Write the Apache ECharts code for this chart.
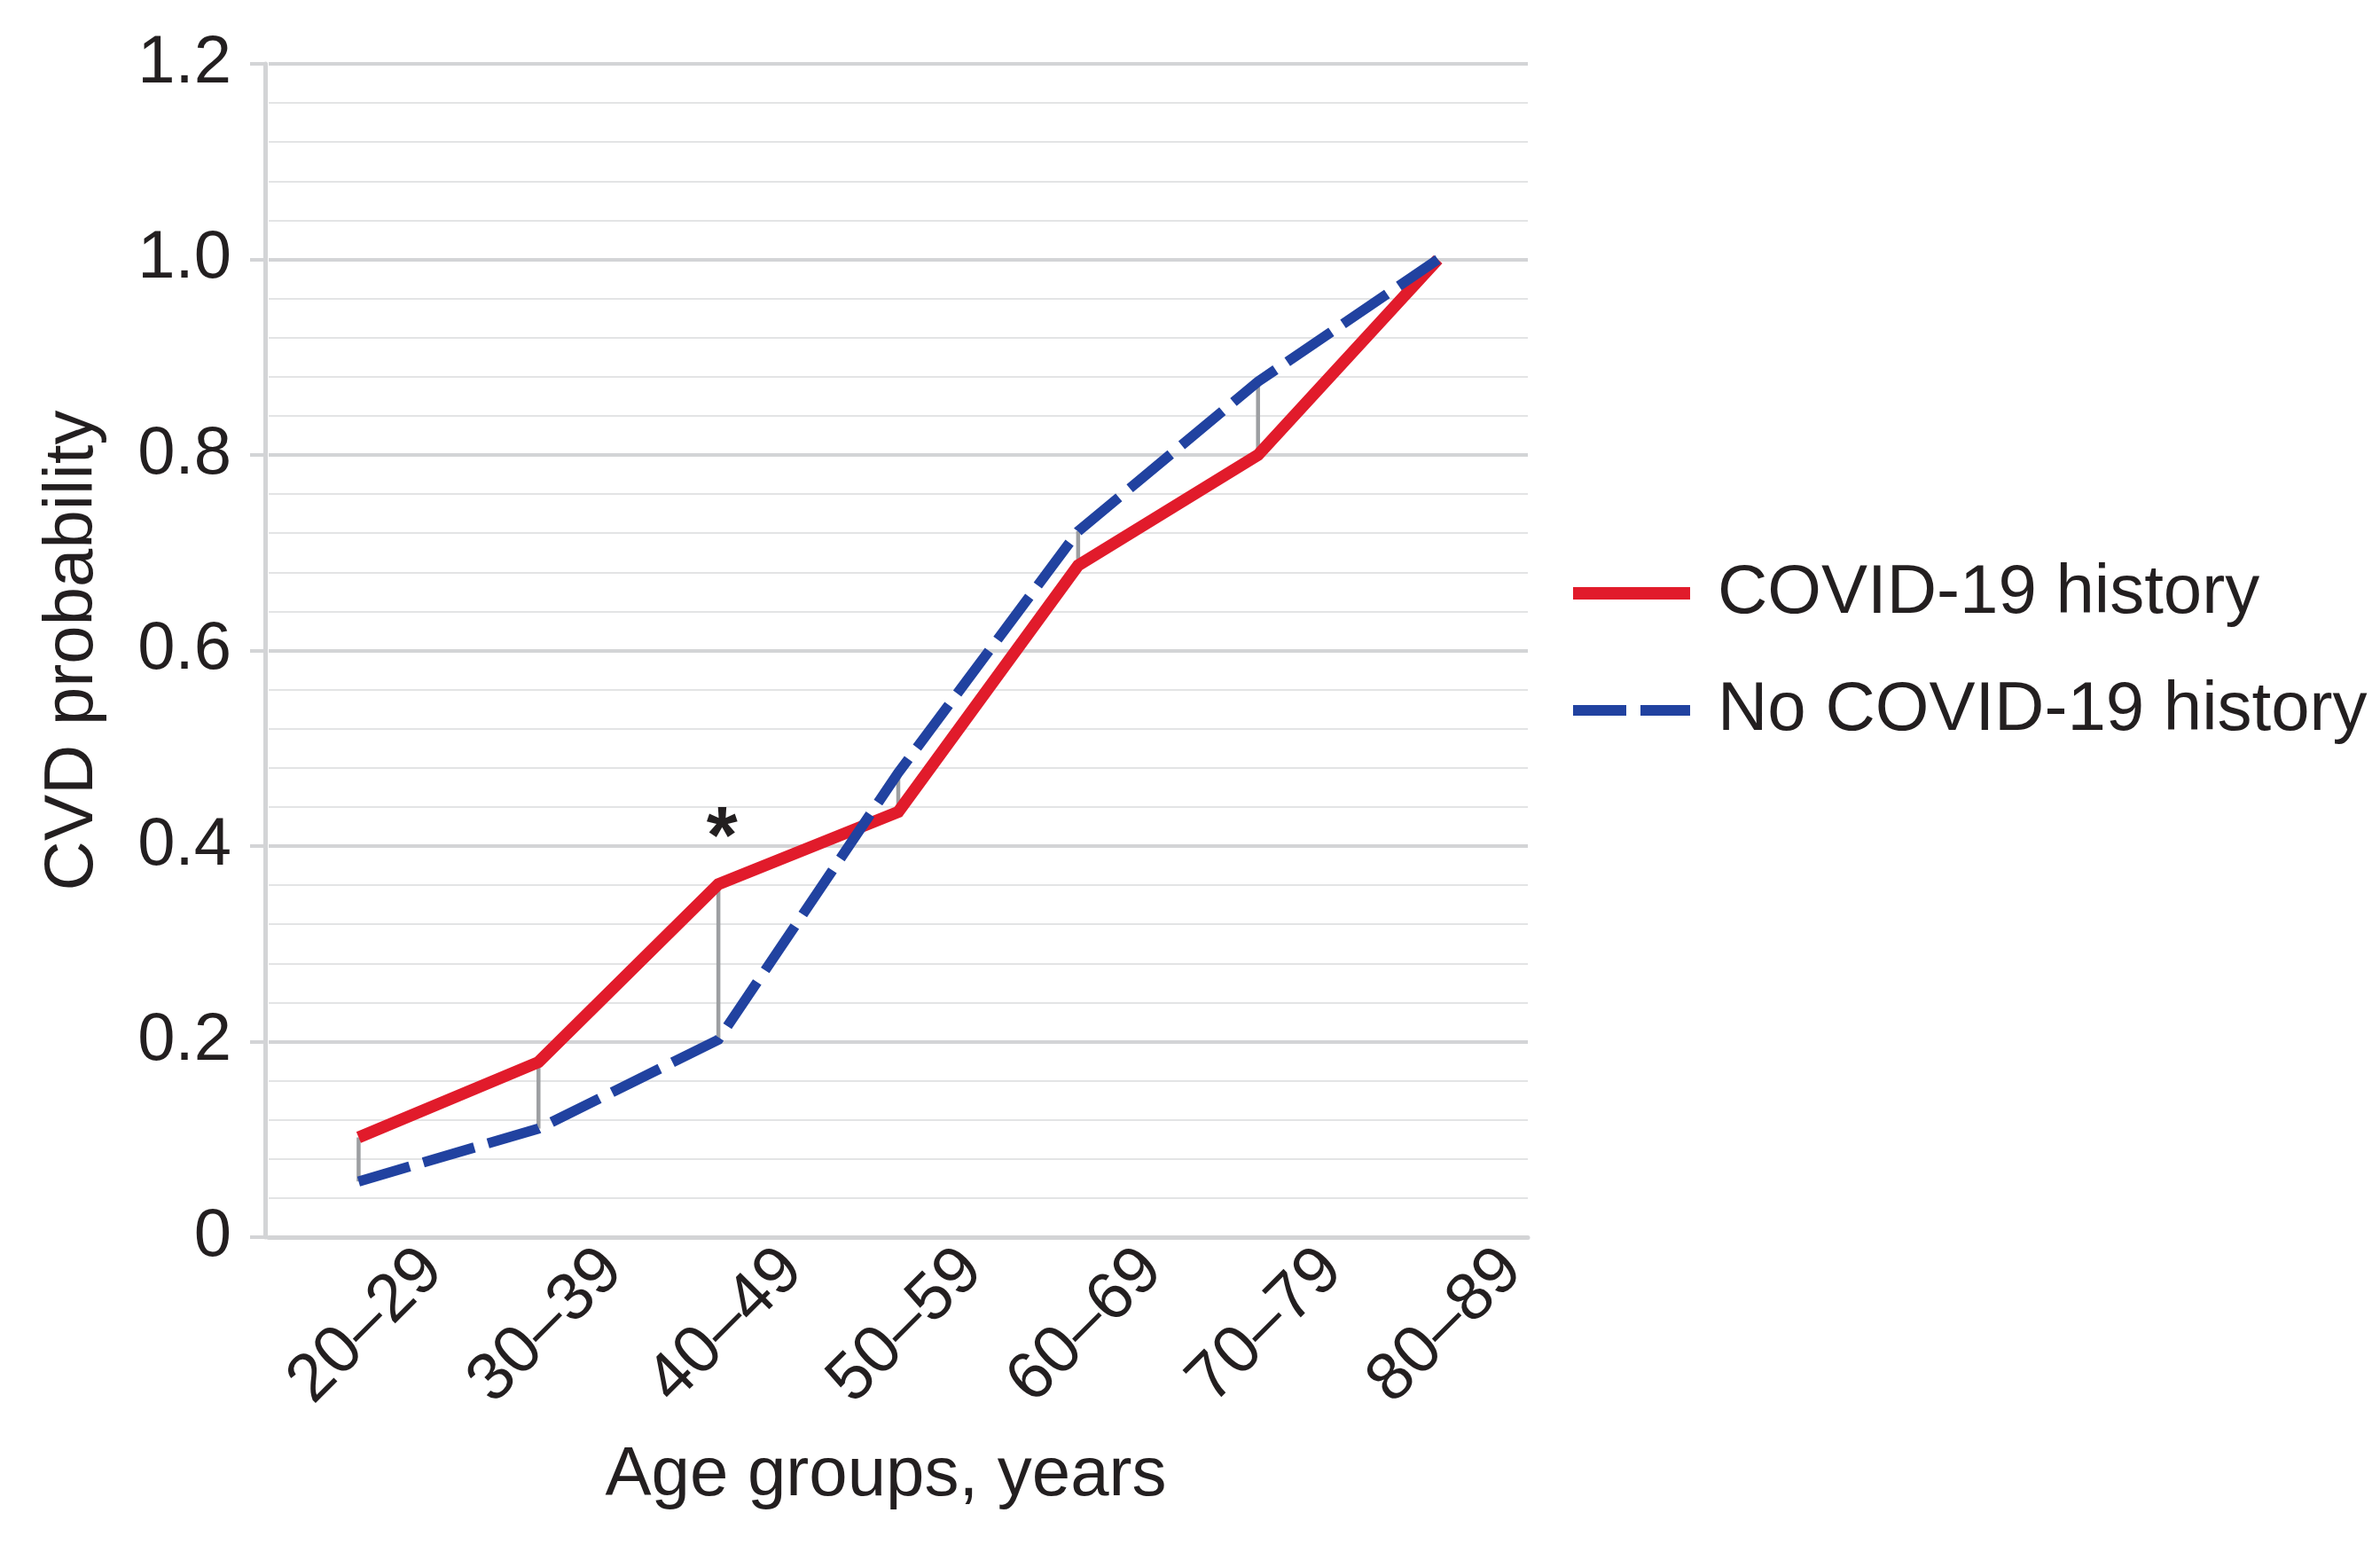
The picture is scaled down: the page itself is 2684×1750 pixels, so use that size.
<!DOCTYPE html>
<html>
<head>
<meta charset="utf-8">
<script src="https://cdn.jsdelivr.net/npm/echarts@6/dist/echarts.min.js"></script>
<style>
  html, body { margin: 0; padding: 0; background: #ffffff; }
  #chart { width: 2684px; height: 1750px; }
</style>
</head>
<body>
<div id="chart"></div>
<script>
// ---- data ----
const categories = ['20–29', '30–39', '40–49', '50–59', '60–69', '70–79', '80–89'];
const covidHistory = [0.102, 0.179, 0.361, 0.435, 0.687, 0.800, 1.000];
const noCovidHistory = [0.057, 0.111, 0.202, 0.475, 0.722, 0.875, 1.000];
const yTickLabels = ['0', '0.2', '0.4', '0.6', '0.8', '1.0', '1.2'];
const seriesNames = ['COVID-19 history', 'No COVID-19 history'];
const significantIndex = 2;   // asterisk marker on 40–49
const significantMark = '*';

const FONT = '"Liberation Sans", Arial, Helvetica, sans-serif';
const TEXT = '#231f20';
const RED = '#E11B2B';
const BLUE = '#2142A0';
const GRID_MAJOR = '#d3d4d6';
const GRID_MINOR = '#e3e4e5';
const BLUE_DASH = [60, 16];

const chart = echarts.init(document.getElementById('chart'), null, { renderer: 'canvas' });

const dropData = categories.map((c, i) => [i, covidHistory[i], noCovidHistory[i]]);
const markData = [[significantIndex, covidHistory[significantIndex]]];

const option = {
  backgroundColor: '#ffffff',
  animation: false,
  textStyle: { fontFamily: FONT, color: TEXT },
  grid: { left: 303, right: 961, top: 72, bottom: 355, containLabel: false },
  legend: {
    orient: 'vertical',
    left: 1762,
    top: 624,
    itemWidth: 132,
    itemHeight: 20,
    itemGap: 52,
    itemStyle: { opacity: 0 },
    data: [
      { name: seriesNames[0], lineStyle: { width: 14, color: RED, type: 'solid' } },
      { name: seriesNames[1], lineStyle: { width: 12, color: BLUE, type: BLUE_DASH } }
    ],
    textStyle: {
      fontSize: 78,
      fontFamily: FONT,
      color: TEXT,
      lineHeight: 80,
      padding: [0, 0, 0, 26]
    }
  },
  xAxis: {
    type: 'category',
    data: categories,
    boundaryGap: true,
    name: 'Age groups, years',
    nameLocation: 'middle',
    nameGap: 230,
    nameTextStyle: { fontSize: 78, fontFamily: FONT, color: TEXT, padding: [0, 28, 0, 0] },
    axisLine: { show: true, lineStyle: { color: GRID_MAJOR, width: 5 } },
    axisTick: { show: false },
    axisLabel: {
      rotate: 45,
      align: 'center',
      verticalAlign: 'middle',
      margin: 109,
      padding: [0, 0, 0, 25],
      fontSize: 76,
      fontFamily: FONT,
      color: TEXT,
      interval: 0
    },
    splitLine: { show: false }
  },
  yAxis: {
    type: 'value',
    min: 0,
    max: 1.2,
    interval: 0.2,
    offset: 4,
    name: 'CVD probability',
    nameLocation: 'middle',
    nameGap: 178,
    nameRotate: 90,
    nameTextStyle: { fontSize: 78, fontFamily: FONT, color: TEXT },
    axisLine: { show: true, lineStyle: { color: GRID_MAJOR, width: 5 } },
    axisTick: { show: true, inside: false, length: 17, lineStyle: { color: GRID_MAJOR, width: 4 } },
    minorTick: { show: false, splitNumber: 5 },
    axisLabel: {
      margin: 38,
      fontSize: 76,
      fontFamily: FONT,
      color: TEXT,
      formatter: (v) => yTickLabels[Math.round(v / 0.2)]
    },
    splitLine: { show: true, lineStyle: { color: GRID_MAJOR, width: 4 } },
    minorSplitLine: { show: true, lineStyle: { color: GRID_MINOR, width: 2 } }
  },
  series: [
    {
      type: 'custom',
      name: 'drop',
      silent: true,
      z: 1,
      data: dropData,
      encode: { x: 0, y: [1, 2] },
      renderItem: (params, api) => {
        const p1 = api.coord([api.value(0), api.value(1)]);
        const p2 = api.coord([api.value(0), api.value(2)]);
        return {
          type: 'line',
          shape: { x1: p1[0], y1: p1[1], x2: p2[0], y2: p2[1] },
          style: { stroke: '#9d9fa2', lineWidth: 4.5 }
        };
      }
    },
    {
      type: 'line',
      name: seriesNames[1],
      data: noCovidHistory,
      symbol: 'none',
      z: 3,
      lineStyle: { color: BLUE, width: 11.5, type: BLUE_DASH, cap: 'butt', join: 'miter' },
      itemStyle: { color: BLUE }
    },
    {
      type: 'line',
      name: seriesNames[0],
      data: covidHistory,
      symbol: 'none',
      z: 2,
      lineStyle: { color: RED, width: 13.5, cap: 'butt', join: 'miter' },
      itemStyle: { color: RED }
    },
    {
      type: 'scatter',
      name: 'significance',
      silent: true,
      z: 5,
      symbol: 'circle',
      symbolSize: 2,
      itemStyle: { color: 'rgba(255,255,255,0)' },
      data: markData,
      label: {
        show: true,
        position: 'inside',
        formatter: significantMark,
        offset: [4, -49],
        opacity: 1,
        fontSize: 90,
        fontWeight: 'bold',
        fontFamily: FONT,
        color: TEXT
      }
    }
  ]
};

chart.setOption(option);
</script>
</body>
</html>
